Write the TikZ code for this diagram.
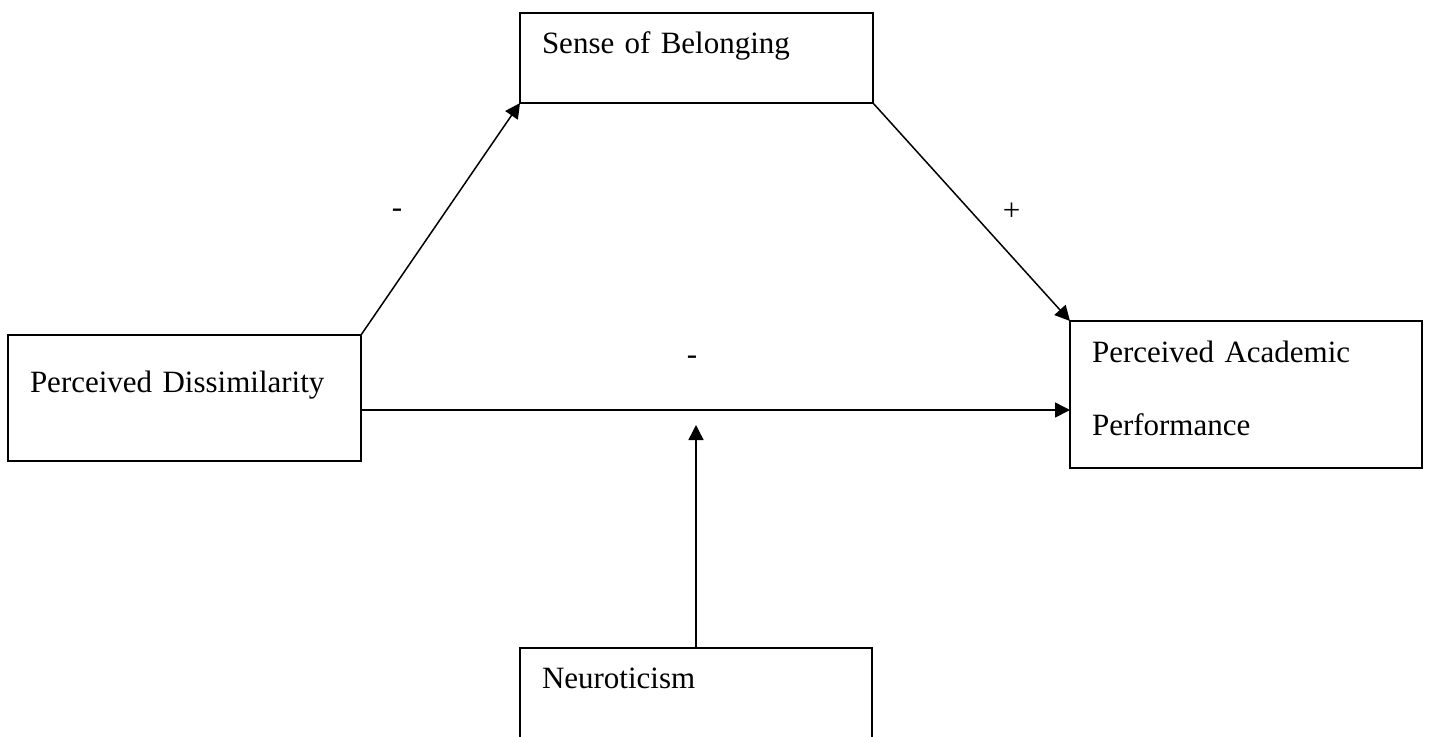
\documentclass[tikz,border=0pt]{standalone}
\usepackage{fontspec}
\setmainfont{Liberation Serif}
\usetikzlibrary{positioning, arrows.meta}

\begin{document}
\begin{tikzpicture}[x=0.5pt, y=-0.5pt, thick,
    main/.style = {draw, rectangle, line width=1pt, outer sep=0pt, inner xsep=11pt, inner ysep=0pt, align=left, font=\fontsize{15.5}{36.5}\selectfont},
    sign/.style = {font=\fontsize{15.5}{18}\selectfont, inner sep=0pt},
    link/.style = {-{Triangle[length=7.5pt, width=7.5pt]}, line width=0.75pt}]
            \useasboundingbox (0,0) rectangle (1429,736);
            \node[main, text width=154.5pt, text height=28.5pt, text depth=34.5pt, anchor=north west] (pd) at (8,335) {Perceived Dissimilarity};
            \node[main, text width=154.5pt, text height=20pt, text depth=25pt] (sob) [above right=116pt and 79.5pt of pd.north east] {Sense of Belonging};
            \node[main, text width=154pt, text height=20.5pt, text depth=53pt] (pap) [below right=109pt and 98.5pt of sob.south east] {Perceived Academic\\Performance};
            \node[main, text width=154pt, text height=20pt, text depth=40pt] (neu) [below right=272.5pt and 0pt of sob.south west] {Neuroticism};
            \coordinate (tip) at ([yshift=-13.5pt]pd.east -| neu.north);
            \draw[link] (pd.north east) -- node[midway, sign, xshift=-21.75pt, yshift=3pt]{-} (sob.south west);
            \draw[link] (sob.south east) -- node[midway, sign, xshift=20pt]{+} (pap.north west);
            \draw[link] ([yshift=-6pt]pd.east) -- node[midway, sign, xshift=-11.75pt, yshift=25pt]{-} ([yshift=-6pt]pd.east -| pap.west);
            \draw[link] (neu.north) -- (tip);
\end{tikzpicture}
\end{document}
